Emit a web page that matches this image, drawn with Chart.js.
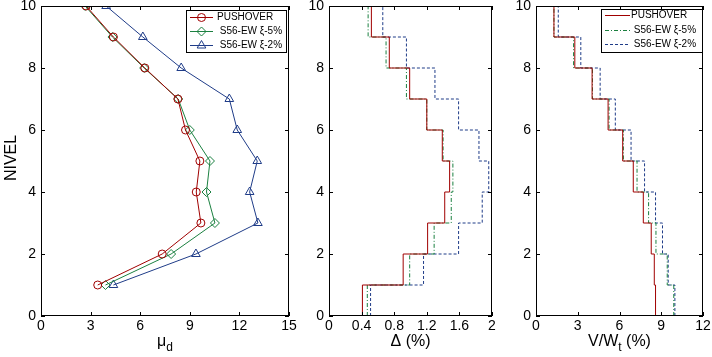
<!DOCTYPE html>
<html>
<head>
<meta charset="utf-8">
<script src="https://cdn.jsdelivr.net/npm/chart.js@4/dist/chart.umd.min.js"></script>
<style>
  body { margin: 0; background: #fff; }
  #wrap { position: relative; width: 712px; height: 357px; }
  canvas { position: absolute; top: 0; }
</style>
</head>
<body>
<div id="wrap">
  <canvas id="c1" width="300" height="357" style="left:0px"></canvas>
  <canvas id="c2" width="205" height="357" style="left:300px"></canvas>
  <canvas id="c3" width="207" height="357" style="left:505px"></canvas>
</div>
<script>
// storey levels 1..10
const levels = [1, 2, 3, 4, 5, 6, 7, 8, 9, 10];
const legendLabels = ['PUSHOVER', ' S56-EW ξ-5%', ' S56-EW ξ-2%'];

// ductility demand mu_d per level
const muPush = [3.43, 7.33, 9.67, 9.39, 9.61, 8.74, 8.28, 6.28, 4.38, 2.73];
const muS5   = [3.90, 7.87, 10.52, 10.01, 10.22, 9.00, 8.30, 6.24, 4.32, 2.67];
const muS2   = [4.38, 9.37, 13.12, 12.62, 13.08, 11.87, 11.39, 8.48, 6.16, 3.94];

// interstorey drift (%) per storey (storey i spans level i-1 .. i)
const driftPush = [0.41, 0.91, 1.21, 1.42, 1.48, 1.39, 1.20, 0.99, 0.74, 0.52];
const driftS5   = [0.47, 0.99, 1.29, 1.50, 1.52, 1.40, 1.20, 0.95, 0.70, 0.48];
const driftS2   = [0.51, 1.16, 1.59, 1.88, 1.96, 1.84, 1.59, 1.30, 0.95, 0.66];

// storey shear V/Wt (%) per storey
const shearPush = [8.59, 8.50, 8.28, 7.71, 6.99, 6.23, 5.18, 4.03, 2.79, 1.29];
const shearS5   = [9.90, 9.43, 8.62, 8.09, 7.26, 6.28, 5.25, 4.06, 2.70, 1.29];
const shearS2   = [9.98, 9.50, 9.09, 8.59, 7.80, 6.83, 5.70, 4.61, 3.22, 1.60];

// tick labels
const yTicks  = [0, 2, 4, 6, 8, 10];
const xTicks1 = [0, 3, 6, 9, 12, 15];
const xTicks2 = [0, 0.4, 0.8, 1.2, 1.6, 2];
const xTickLabels2 = ['0', '0.4', '0.8', '1.2', '1.6', '2'];
const xTicks3 = [0, 3, 6, 9, 12];

const RED = '#a00000';
const GREEN = '#1b8040';
const BLUE = '#1f3c88';
const FONT = '"Liberation Sans", Arial, Helvetica, sans-serif';

// turn per-storey values into a staircase
function stairs(vals) {
  const pts = [];
  vals.forEach((v, i) => {
    pts.push({ x: v, y: i });
    pts.push({ x: v, y: i + 1 });
  });
  return pts;
}

// box + inward ticks on all four sides, matlab style
const framePlugin = {
  id: 'frame',
  afterDatasetsDraw(chart) {
    const { ctx, chartArea: a, scales: { x, y } } = chart;
    const len = 4;
    ctx.save();
    ctx.strokeStyle = '#000';
    ctx.lineWidth = 1;
    ctx.beginPath();
    x.ticks.forEach(t => {
      const px = Math.round(x.getPixelForValue(t.value)) + 0.5;
      ctx.moveTo(px, a.bottom); ctx.lineTo(px, a.bottom - len);
      ctx.moveTo(px, a.top); ctx.lineTo(px, a.top + len);
    });
    y.ticks.forEach(t => {
      const py = Math.round(y.getPixelForValue(t.value)) + 0.5;
      ctx.moveTo(a.left, py); ctx.lineTo(a.left + len, py);
      ctx.moveTo(a.right, py); ctx.lineTo(a.right - len, py);
    });
    ctx.stroke();
    ctx.strokeRect(Math.round(a.left) + 0.5, Math.round(a.top) + 0.5,
      Math.round(a.right - a.left) - 1, Math.round(a.bottom - a.top) - 1);
    ctx.restore();
  }
};

// axis titles with subscripts
const titlePlugin = {
  id: 'titles',
  afterDraw(chart, args, opts) {
    const { ctx, chartArea: a } = chart;
    ctx.save();
    ctx.fillStyle = '#000';
    ctx.textBaseline = 'alphabetic';
    if (opts.x) {
      const parts = opts.x.map(([txt, sub]) => {
        ctx.font = (sub ? '12px ' : '16px ') + FONT;
        return { txt, sub, w: ctx.measureText(txt).width };
      });
      const total = parts.reduce((s, p) => s + p.w, 0);
      let px = (a.left + a.right) / 2 - total / 2;
      parts.forEach(p => {
        ctx.font = (p.sub ? '12px ' : '16px ') + FONT;
        ctx.fillText(p.txt, px, opts.base + (p.sub ? 5 : 0));
        px += p.w;
      });
    }
    if (opts.y) {
      ctx.font = '16px ' + FONT;
      ctx.translate(opts.yx, opts.yc);
      ctx.rotate(-Math.PI / 2);
      ctx.textAlign = 'center';
      ctx.fillText(opts.y, 0, 0);
    }
    ctx.restore();
  }
};

// legend box drawn inside the axes
const legendPlugin = {
  id: 'boxLegend',
  afterDraw(chart, args, opts) {
    if (!opts.show) return;
    const { ctx } = chart;
    ctx.save();
    ctx.fillStyle = '#fff';
    ctx.fillRect(opts.x, opts.y, opts.w, opts.h);
    ctx.strokeStyle = '#000';
    ctx.lineWidth = 1;
    ctx.strokeRect(opts.x + 0.5, opts.y + 0.5, opts.w, opts.h);
    ctx.font = '10px ' + FONT;
    ctx.textBaseline = 'middle';
    chart.data.datasets.forEach((ds, i) => {
      const ry = opts.y + opts.rows[i] + 0.5;
      ctx.strokeStyle = ds.borderColor;
      ctx.setLineDash(ds.borderDash || []);
      ctx.beginPath();
      ctx.moveTo(opts.x + opts.l0, ry);
      ctx.lineTo(opts.x + opts.l1, ry);
      ctx.stroke();
      ctx.setLineDash([]);
      if (ds.pointRadius > 0) {
        ctx.fillStyle = 'rgba(0,0,0,0)';
        Chart.helpers.drawPoint(ctx, { pointStyle: ds.pointStyle, radius: ds.pointRadius, borderWidth: 1, rotation: 0 },
          opts.x + (opts.l0 + opts.l1) / 2, ry);
      }
      ctx.fillStyle = '#000';
      ctx.fillText(ds.label, opts.x + opts.tx, ry);
    });
    ctx.restore();
  }
};

function makeChart(id, datasets, xCfg, yWidth, rightPad, titles, legend) {
  const tickFont = { family: FONT, size: 14 };
  return new Chart(document.getElementById(id), {
    type: 'scatter',
    data: { datasets },
    options: {
      responsive: false,
      animation: false,
      devicePixelRatio: 1,
      layout: { padding: { top: 6, right: rightPad, left: 0, bottom: 0 } },
      scales: {
        x: {
          type: 'linear', min: xCfg.min, max: xCfg.max,
          grid: { display: false, drawTicks: false }, border: { display: false },
          afterBuildTicks: s => { s.ticks = xCfg.ticks.map(v => ({ value: v })); },
          ticks: {
            font: tickFont, color: '#000', padding: 2, maxRotation: 0, autoSkip: false,
            callback: (v, i) => xCfg.labels ? xCfg.labels[i] : String(v)
          },
          afterFit: s => { s.height = 41; s.paddingLeft = 0; s.paddingRight = 0; }
        },
        y: {
          type: 'linear', min: 0, max: 10,
          grid: { display: false, drawTicks: false }, border: { display: false },
          afterBuildTicks: s => { s.ticks = yTicks.map(v => ({ value: v })); },
          ticks: { font: tickFont, color: '#000', padding: 5, autoSkip: false },
          afterFit: s => { s.width = yWidth; s.paddingTop = 0; s.paddingBottom = 0; }
        }
      },
      plugins: {
        legend: { display: false },
        tooltip: { enabled: false },
        titles,
        boxLegend: legend || { show: false }
      }
    },
    plugins: [framePlugin, titlePlugin, legendPlugin]
  });
}

function markerSet(label, xs, color, style, r) {
  return {
    label, data: levels.map((l, i) => ({ x: xs[i], y: l })),
    showLine: true, borderColor: color, borderWidth: 1,
    pointStyle: style, pointRadius: r, pointBorderWidth: 1,
    pointBackgroundColor: 'rgba(0,0,0,0)', pointBorderColor: color
  };
}

function stairSet(label, vals, color, dash) {
  return {
    label, data: stairs(vals), showLine: true,
    borderColor: color, borderWidth: 1, borderDash: dash,
    pointRadius: 0, pointHoverRadius: 0
  };
}

// panel 1: ductility
makeChart('c1', [
  markerSet(legendLabels[0], muPush, RED, 'circle', 4),
  markerSet(legendLabels[1], muS5, GREEN, 'rectRot', 4.5),
  markerSet(legendLabels[2], muS2, BLUE, 'triangle', 5)
], { min: 0, max: 15, ticks: xTicks1 }, 41, 11,
  { x: [['μ', false], ['d', true]], base: 346, y: 'NIVEL', yx: 16, yc: 158 },
  { show: true, x: 186, y: 10, w: 100, h: 42, rows: [7, 21, 35], l0: 4, l1: 27, tx: 31 });

// panel 2: drift
makeChart('c2', [
  stairSet(legendLabels[0], driftPush, RED, []),
  stairSet(legendLabels[1], driftS5, GREEN, [4, 2, 1, 2]),
  stairSet(legendLabels[2], driftS2, BLUE, [3, 2])
], { min: 0, max: 2, ticks: xTicks2, labels: xTickLabels2 }, 29, 13,
  { x: [['Δ (%)', false]], base: 346 });

// panel 3: storey shear
makeChart('c3', [
  stairSet(legendLabels[0], shearPush, RED, []),
  stairSet(legendLabels[1], shearS5, GREEN, [4, 2, 1, 2]),
  stairSet(legendLabels[2], shearS2, BLUE, [3, 2])
], { min: 0, max: 12, ticks: xTicks3 }, 31, 9,
  { x: [['V/W', false], ['t', true], [' (%)', false]], base: 346 },
  { show: true, x: 96, y: 9, w: 101, h: 43, rows: [6, 21, 35], l0: 4, l1: 29, tx: 30 });
</script>
</body>
</html>
